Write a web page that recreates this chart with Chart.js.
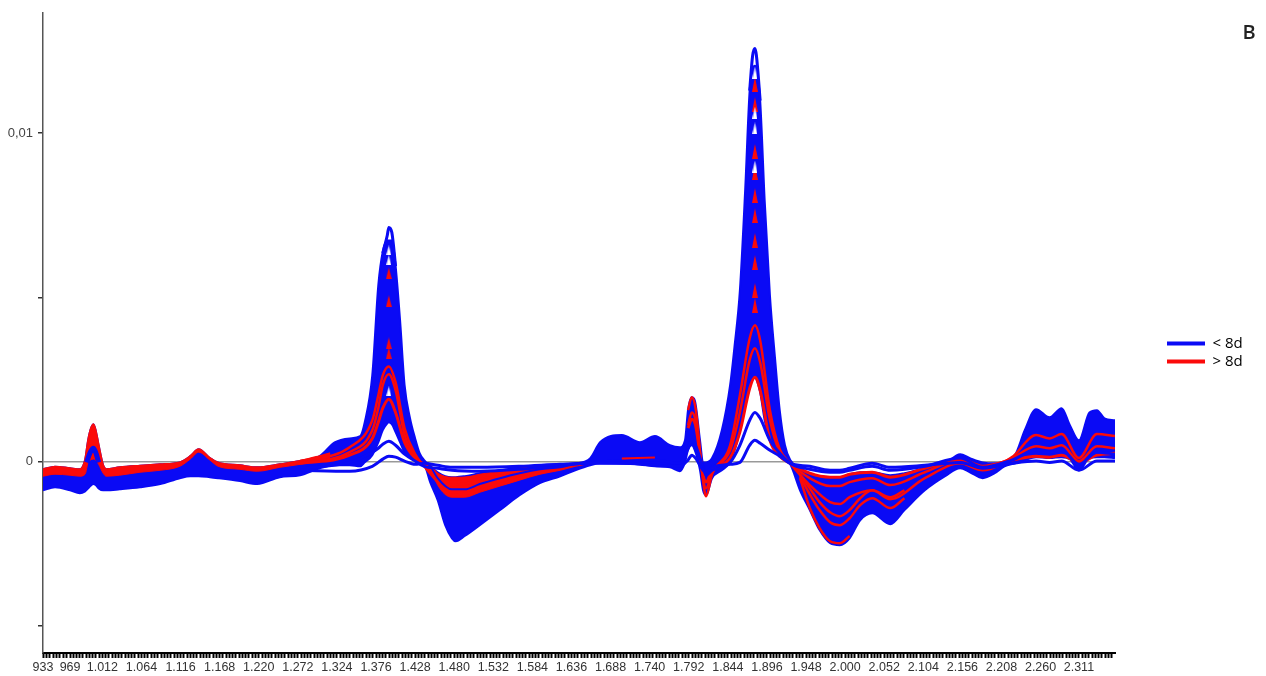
<!DOCTYPE html>
<html>
<head>
<meta charset="utf-8">
<title>Spectra</title>
<script src="https://cdn.jsdelivr.net/npm/chart.js@4/dist/chart.umd.min.js"></script>
<style>
  html, body { margin: 0; padding: 0; background: #fff; }
  canvas { display: block; }
</style>
</head>
<body>
<canvas id="spectra" width="1266" height="676"></canvas>
<script>
const BLUE = '#0a0af5';
const RED = '#fb0a0a';

// tick labels
const xTickLabels = [933, 969, 1012, 1064, 1116, 1168, 1220, 1272, 1324, 1376, 1428, 1480, 1532, 1584, 1636, 1688, 1740, 1792, 1844, 1896, 1948, 2000, 2052, 2104, 2156, 2208, 2260, 2311];
const yTicks = [0.01, 0.005, 0, -0.005];
const yTickLabels = ['0,01', '', '0', ''];
const legendNames = ['< 8d', '> 8d'];

// main sampling, used by the blue band outline
const bandWave = [933, 949, 969, 982, 989, 993, 996, 1000, 1003, 1007, 1013, 1017, 1035, 1062, 1089, 1115, 1129, 1140, 1155, 1166, 1195, 1218, 1248, 1275, 1301, 1321, 1341, 1355, 1361, 1371, 1379, 1385, 1391, 1393, 1397, 1402, 1408, 1414, 1421, 1428, 1434, 1440, 1448, 1458, 1468, 1477, 1482, 1494, 1514, 1541, 1567, 1594, 1621, 1641, 1661, 1674, 1703, 1727, 1747, 1767, 1780, 1787, 1791, 1796, 1800, 1807, 1811, 1815, 1823, 1836, 1847, 1853, 1860, 1867, 1873, 1877, 1880, 1882, 1887, 1893, 1900, 1907, 1913, 1920, 1927, 1940, 1953, 1966, 1980, 1993, 2006, 2020, 2036, 2060, 2079, 2106, 2133, 2153, 2166, 2183, 2199, 2212, 2226, 2239, 2254, 2272, 2288, 2299, 2311, 2325, 2335, 2345, 2359];
const bandUpper = [-0.00023, -0.00015, -0.0002, -0.00023, 0.00005, 0.00065, 0.00096, 0.00114, 0.00096, 0.0005, -0.00011, -0.00023, -0.00017, -0.00012, -0.00008, -0.00002, 0.00017, 0.00038, 0.00011, -0.00003, -0.00011, -0.00017, -0.00008, 0.00002, 0.00017, 0.00059, 0.00071, 0.00078, 0.0012, 0.00263, 0.00537, 0.0064, 0.00673, 0.00673, 0.00673, 0.00597, 0.0043, 0.00233, 0.00135, 0.00071, 0.00026, 0.00005, -0.00014, -0.00032, -0.00044, -0.00047, -0.00047, -0.00044, -0.00035, -0.00026, -0.00017, -0.00011, -0.00008, -0.00005, 0.00011, 0.00059, 0.00081, 0.00059, 0.00078, 0.0005, 0.00044, 0.00065, 0.00157, 0.00196, 0.00187, 0.00065, -0.00002, -0.00002, 0.00011, 0.00096, 0.00233, 0.00354, 0.00521, 0.00825, 0.01129, 0.01196, 0.01205, 0.01196, 0.01099, 0.00795, 0.00506, 0.00309, 0.00157, 0.0005, 0.00005, -0.0002, -0.00038, -0.00044, -0.00047, -0.00047, -0.00038, -0.00032, -0.00032, -0.00041, -0.00035, -0.0002, -0.00005, 0.00023, 0.00011, -0.00002, -0.00005, -0.00002, 0.0002, 0.00096, 0.0016, 0.00135, 0.00163, 0.00111, 0.00065, 0.0015, 0.00157, 0.00132, 0.00126];
const bandLower = [-0.00087, -0.00078, -0.00087, -0.00096, -0.0009, -0.00081, -0.00074, -0.00068, -0.00071, -0.00081, -0.00087, -0.00087, -0.00084, -0.00078, -0.00068, -0.0005, -0.00044, -0.00044, -0.00047, -0.0005, -0.00059, -0.00068, -0.00047, -0.00041, -0.0002, -0.00011, -0.00011, -0.00014, -0.00002, 0.0002, 0.00059, 0.00096, 0.00117, 0.0012, 0.00114, 0.0009, 0.00059, 0.00029, 0.00014, 0.00008, -0.00002, -0.00008, -0.00062, -0.00117, -0.00193, -0.00233, -0.00242, -0.00226, -0.00193, -0.00147, -0.00102, -0.00065, -0.00044, -0.00026, -0.00011, -0.00005, -0.00006, -0.00008, -0.00014, -0.00017, -0.00029, -0.00002, 0.00035, 0.0005, 0.00035, -0.00026, -0.00087, -0.00102, -0.0005, -0.00026, -0.00002, 0.00035, 0.00096, 0.00172, 0.00233, 0.00251, 0.00257, 0.00251, 0.00211, 0.00126, 0.00065, 0.00035, 0.00017, 0.00005, -0.00008, -0.00087, -0.00147, -0.00208, -0.00248, -0.00254, -0.00233, -0.00178, -0.00157, -0.0019, -0.00147, -0.00087, -0.00044, -0.0002, -0.00032, -0.0005, -0.00035, -0.00014, -0.00005, 0.00005, 0.00014, 0.00011, 0.00014, 0.00008, -0.00026, 0.00011, 0.00014, 0.00014, 0.00011];

// single curves that stand apart from the band
const traceWave = [1275, 1341, 1371, 1379, 1385, 1393, 1402, 1414, 1428, 1440, 1458, 1477, 1514, 1567, 1621, 1661, 1703, 1747, 1780, 1791, 1796, 1801, 1811, 1815, 1823, 1847, 1860, 1873, 1880, 1887, 1900, 1913, 1927, 1953, 1980, 1993, 2006, 2036, 2060, 2106, 2153, 2183, 2222, 2254, 2272, 2288, 2311, 2335, 2359];
const blueLowest = [-0.00026, -0.00029, -0.00014, -0.00002, 0.00008, 0.00017, 0.00014, 0.00002, -0.00008, -0.00005, -0.00011, -0.00017, -0.00017, -0.00014, -0.00008, -0.00005, -0.00005, -0.00011, -0.00014, 0.00005, 0.0002, 0.00011, -0.00026, -0.00032, -0.00017, -0.00008, -0.00002, 0.0005, 0.00065, 0.00056, 0.00035, 0.00017, -0.00005, -0.00014, -0.00026, -0.00026, -0.0002, -0.00005, -0.00017, -0.00011, -0.00002, -0.0002, -0.00005, 0.00002, -0.00002, 0.00002, -0.00026, 0.00002, 0.00002];
const blueLow = [-0.0002, -0.00002, 0.00029, 0.00041, 0.00053, 0.00062, 0.0005, 0.00023, 0.00002, -0.00014, -0.0002, -0.00026, -0.00029, -0.00023, -0.00011, -0.00002, 0.00002, 0.00005, -0.00005, 0.00041, 0.00065, 0.0005, -0.00017, -0.00041, -0.00026, -0.00002, 0.0005, 0.00126, 0.0015, 0.00132, 0.00065, 0.00026, -0.00005, -0.00023, -0.00032, -0.00032, -0.00026, -0.00014, -0.00026, -0.00014, 0.00011, -0.00017, 0.00005, 0.00035, 0.00029, 0.00035, -0.00008, 0.00029, 0.00023];
const redLowA = [-0.00005, 0.0002, 0.00071, 0.0012, 0.00163, 0.0019, 0.0015, 0.00059, 0.00011, -0.00008, -0.00038, -0.00053, -0.00044, -0.00026, -0.00014, null, 0.00008, 0.00011, null, 0.00102, 0.00129, 0.00111, -0.00041, -0.00062, -0.00026, 0.00011, 0.0009, 0.00223, 0.00257, 0.00217, 0.00065, 0.00017, -0.00005, -0.00035, -0.00047, -0.00047, -0.00038, -0.00032, -0.00047, -0.0002, 0.00008, -0.00014, 0.00005, 0.00017, 0.00014, 0.0002, -0.00002, 0.0002, 0.00026];
const redLowB = [-0.00002, 0.00029, 0.00096, 0.00163, 0.00233, 0.00266, 0.00217, 0.00081, 0.00017, -0.00011, -0.0005, -0.00071, -0.00059, -0.00038, -0.00017, null, null, null, null, 0.00111, 0.0015, 0.00126, -0.0005, -0.00081, -0.00032, 0.00035, 0.0015, 0.00309, 0.00345, 0.00302, 0.00126, 0.00029, -0.00005, -0.0005, -0.00074, -0.00074, -0.00062, -0.0005, -0.00071, -0.00032, 0.00005, -0.00017, 0.00011, 0.00047, 0.00041, 0.0005, 0.00002, 0.00047, 0.00041];
const redLowC = [0.00002, 0.00044, 0.00126, 0.00202, 0.00263, 0.0029, 0.00242, 0.00102, 0.00023, -0.00014, -0.00062, -0.00102, -0.00087, -0.0005, -0.0002, null, null, null, null, 0.00157, 0.00196, 0.00163, -0.00056, -0.00105, -0.00038, 0.0005, 0.00202, 0.00375, 0.00415, 0.00369, 0.00157, 0.00038, -0.00005, -0.00071, -0.00123, -0.00129, -0.00108, -0.00087, -0.00114, -0.0005, -0.00005, -0.00026, 0.00014, 0.00081, 0.00071, 0.00084, 0.00011, 0.00084, 0.00078];

// highest curves, tops of the two main peaks
const topSmallWave = [1385, 1391, 1393, 1397, 1402];
const topSmall = [0.00635, 0.00689, 0.00713, 0.00698, 0.00595];
const topBigWave = [1873, 1877, 1880, 1882, 1887];
const topBig = [0.01129, 0.01236, 0.01257, 0.01236, 0.01099];

// red curves along the left baseline
const redEdgeWave = [933, 949, 969, 982, 989, 993, 996, 1000, 1003, 1007, 1013, 1017, 1035, 1062, 1089, 1115, 1129, 1140, 1155, 1166, 1195, 1218, 1248, 1275, 1301, 1315];
const redEdgeUpper = [-0.00023, -0.00015, -0.0002, -0.00023, 0.00005, 0.00065, 0.00096, 0.00114, 0.00096, 0.0005, -0.00011, -0.00023, -0.00017, -0.00012, -0.00008, -0.00002, 0.00017, 0.00038, 0.00011, -0.00003, -0.00011, -0.00017, -0.00008, 0.00002, 0.00017, 0.00026];
const redEdgeLower = [-0.00044, -0.00038, -0.00041, -0.00044, -0.00038, -0.00002, 0.00005, 0.00008, 0.00005, -0.00008, -0.00035, -0.00044, -0.00041, -0.00032, -0.00026, -0.00014, 0.00008, 0.00029, 0.00005, -0.00014, -0.00023, -0.00029, -0.00017, -0.00008, 0.00005, 0.00014];
const spikeWave = [991, 996, 1000, 1003, 1007];
const spikeBlue = [-0.00002, 0.00029, 0.00041, 0.00029, -0.00002];

// first negative lobe
const lobeWave = [1448, 1458, 1477, 1494, 1514, 1541, 1567, 1594, 1621, 1641, 1661];
const redLobeUpper = [-0.00008, -0.00035, -0.00047, -0.00047, -0.00038, -0.00029, -0.0002, -0.00014, -0.00011, -0.00005, -0.00002];
const redLobeLower = [-0.00014, -0.00071, -0.00108, -0.00108, -0.00093, -0.00074, -0.00056, -0.00038, -0.00026, -0.00014, -0.00005];
const blueLobe = [-0.00011, -0.0005, -0.00084, -0.00084, -0.00068, -0.0005, -0.00035, -0.00023, -0.00017, -0.00008, -0.00005];

// second negative lobe
const deepWave = [1940, 1953, 1966, 1980, 1993, 2006, 2020, 2036, 2060, 2079];
const redDeepA = [-0.0005, -0.00141, -0.00202, -0.00242, -0.00248, -0.00226, null, null, null, null];
const redDeepB = [-0.00044, -0.00099, -0.00147, -0.00184, -0.00193, -0.00172, -0.00132, -0.00111, -0.00141, -0.00111];
const redDeepC = [-0.00038, -0.00081, -0.00123, -0.00154, -0.00166, -0.00147, -0.00111, -0.00087, -0.00108, -0.00087];

// apexes of the curves that show through inside the two peaks
const apexBigWave = 1880;
const apexSmallWave = 1393;
const redApexBig = [0.01148, 0.01087, 0.00944, 0.0088, 0.0081, 0.00749, 0.00673, 0.00606, 0.00521, 0.00476];
const whiteApexBig = [0.01184, 0.01062, 0.01014, 0.00898];
const redApexSmall = [0.00573, 0.00488, 0.0036, 0.0033];
const whiteApexSmall = [0.00643, 0.00613, 0.00214];

function curve(wave, values, color, width, extra) {
  return Object.assign({
    data: wave.map((w, i) => ({ x: w, y: values[i] })),
    borderColor: color,
    backgroundColor: color,
    borderWidth: width,
    pointRadius: 0,
    cubicInterpolationMode: 'monotone',
    fill: false
  }, extra);
}

// narrow arch the curve tip leaves between its neighbours
function wedge(color, w, h) {
  const c = document.createElement('canvas');
  c.width = w;
  c.height = h;
  const g = c.getContext('2d');
  g.fillStyle = color;
  g.beginPath();
  g.moveTo(w / 2, 0);
  g.lineTo(w, h);
  g.lineTo(0, h);
  g.closePath();
  g.fill();
  return c;
}

function apexes(wave, values, mark) {
  return {
    data: values.map(v => ({ x: wave, y: v })),
    showLine: false,
    pointStyle: mark,
    pointRadius: 4,
    borderColor: 'rgba(0,0,0,0)'
  };
}

// Chart.js paints the first dataset last, so the top layer comes first
const datasets = [
  apexes(apexBigWave, whiteApexBig, wedge('#fff', 5, 12)),
  apexes(apexSmallWave, whiteApexSmall, wedge('#fff', 5, 10)),
  apexes(apexBigWave, redApexBig, wedge(RED, 6, 15)),
  apexes(apexSmallWave, redApexSmall, wedge(RED, 6, 12)),
  curve(traceWave, blueLowest, BLUE, 3),
  curve(traceWave, blueLow, BLUE, 3),
  curve(lobeWave, blueLobe, BLUE, 2),
  curve(spikeWave, spikeBlue, BLUE, 5),
  curve(traceWave, redLowA, RED, 3),
  curve(traceWave, redLowB, RED, 2.5),
  curve(traceWave, redLowC, RED, 2.5),
  curve(deepWave, redDeepA, RED, 2.5),
  curve(deepWave, redDeepB, RED, 2.5),
  curve(deepWave, redDeepC, RED, 2.5),
  curve(lobeWave, redLobeUpper, RED, 1, { fill: '+1' }),
  curve(lobeWave, redLobeLower, RED, 1),
  curve(redEdgeWave, redEdgeUpper, RED, 2, { fill: '+1' }),
  curve(redEdgeWave, redEdgeLower, RED, 1),
  curve(topSmallWave, topSmall, BLUE, 3),
  curve(topBigWave, topBig, BLUE, 3),
  curve(bandWave, bandUpper, BLUE, 2, { fill: '+1' }),
  curve(bandWave, bandLower, BLUE, 2)
];

function xTickText(v) {
  if (!xTickLabels.includes(v)) return '';
  if (v < 1000) return String(v);
  return Math.floor(v / 1000) + '.' + String(v % 1000).padStart(3, '0');
}

// the axis in the picture has a tick about every 3px between the labelled ones
function buildXTicks(scale) {
  const ticks = [];
  xTickLabels.forEach((v, i) => {
    const next = xTickLabels[i + 1] || 2359;
    const parts = Math.round((next - v) / 4.33);
    for (let k = 0; k < parts; k++) ticks.push({ value: k === 0 ? v : v + (next - v) * k / parts });
  });
  scale.ticks = ticks;
}

const placeExtras = {
  id: 'placeExtras',
  afterLayout(chart) {
    const legend = chart.legend;
    legend.left = 1164;
    legend.right = 1266;
    legend.top = 333;
    legend.bottom = 381;
  },
  afterDraw(chart) {
    const ctx = chart.ctx;
    ctx.save();
    ctx.font = '600 20px "Open Sans"';
    ctx.fillStyle = '#222';
    ctx.textAlign = 'center';
    ctx.textBaseline = 'middle';
    ctx.fillText('B', 1249, 33);
    ctx.restore();
  }
};

new Chart(document.getElementById('spectra').getContext('2d'), {
  type: 'line',
  data: { datasets: datasets },
  plugins: [placeExtras],
  options: {
    responsive: false,
    animation: false,
    devicePixelRatio: 1,
    layout: { padding: { top: 12, right: 151, left: 0, bottom: 0 } },
    plugins: {
      tooltip: { enabled: false },
      title: { display: false },
      legend: {
        position: 'chartArea',
        align: 'start',
        labels: {
          boxWidth: 38,
          boxHeight: 4,
          padding: 3,
          color: '#222',
          font: { family: '"Open Sans"', size: 15 },
          generateLabels: () => legendNames.map((name, i) => ({
            text: name,
            fillStyle: i === 0 ? BLUE : RED,
            strokeStyle: i === 0 ? BLUE : RED,
            lineWidth: 0
          }))
        }
      }
    },
    scales: {
      x: {
        type: 'linear',
        min: 933,
        max: 2359,
        afterBuildTicks: buildXTicks,
        afterFit(scale) { scale.height = 23; },
        border: { color: '#000', width: 2 },
        grid: { drawOnChartArea: false, tickLength: 5, tickColor: '#000', tickWidth: 2 },
        ticks: {
          autoSkip: false,
          maxRotation: 0,
          padding: 2,
          color: '#333',
          font: { family: '"Liberation Sans"', size: 12.5 },
          callback: v => xTickText(v)
        }
      },
      y: {
        type: 'linear',
        min: -0.00582,
        max: 0.01366,
        afterBuildTicks(scale) { scale.ticks = yTicks.map(v => ({ value: v })); },
        afterFit(scale) { scale.width = 43; },
        border: { color: '#555', width: 1.5 },
        grid: {
          tickLength: 5,
          tickColor: '#333',
          lineWidth: 1.5,
          color: c => (c.tick && c.tick.value === 0 ? '#999' : 'rgba(0,0,0,0)')
        },
        ticks: {
          padding: 5,
          color: '#444',
          font: { family: '"Liberation Sans"', size: 13 },
          callback: v => yTickLabels[yTicks.indexOf(v)]
        }
      }
    }
  }
});
</script>
</body>
</html>
